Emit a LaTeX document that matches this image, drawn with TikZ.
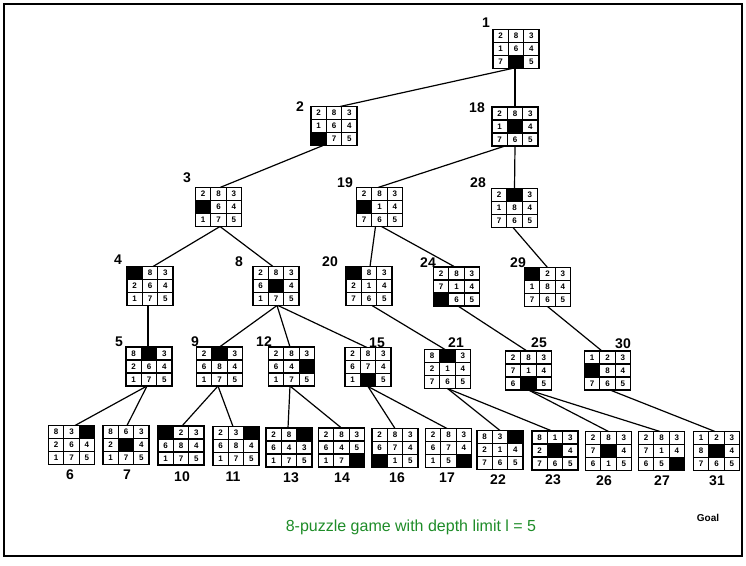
\documentclass[tikz,border=0pt]{standalone}
\usepackage{fontspec}
\setmainfont{Liberation Sans}
\definecolor{capgreen}{RGB}{30,140,40}
\tikzset{
  pbox/.style={draw, line width=1.5pt, minimum width=46pt, minimum height=39pt, inner sep=0pt, outer sep=0pt},
  digit/.style={font=\fontsize{8}{8}\selectfont\bfseries, inner sep=0pt},
  lab/.style={font=\fontsize{14}{14}\selectfont\bfseries, inner sep=0pt},
  edge/.style={line width=1.2pt},
  gridl/.style={line width=1.1pt},
}
\newcommand\puz[4]{%
  \begin{scope}[shift={(#2,#3)}]
    \foreach \v [count=\k from 0] in {#4} {%
      \pgfmathtruncatemacro\cc{mod(\k,3)}%
      \pgfmathtruncatemacro\rr{floor(\k/3)}%
      \ifnum\v=0
        \fill (-23+\cc*15.333, -19.5+\rr*13) rectangle ++(15.333,13);
      \else
        \node[digit] at (-23+\cc*15.333+7.667, -19.5+\rr*13+6.5) {\v};
      \fi
    }
    \draw[gridl] (-7.667,-19.5) -- (-7.667,19.5) (7.667,-19.5) -- (7.667,19.5)
                 (-23,-6.5) -- (23,-6.5) (-23,6.5) -- (23,6.5);
  \end{scope}
  \node[pbox] (#1) at (#2,#3) {};
}
\begin{document}
\begin{tikzpicture}[x={(1pt,0)}, y={(0,-1pt)}]
\useasboundingbox (0,0) rectangle (746,565);
\draw[line width=1.5pt] (4,4) rectangle (742,556);

% level 0
\puz{n1}{516}{49}{2,8,3,1,6,4,7,0,5}
% level 1
\puz{n2}{334}{126}{2,8,3,1,6,4,0,7,5}
\puz{n18}{515}{126.5}{2,8,3,1,0,4,7,6,5}
% level 2
\puz{n3}{218.5}{207}{2,8,3,0,6,4,1,7,5}
\puz{n19}{379.5}{207}{2,8,3,0,1,4,7,6,5}
\puz{n28}{514.5}{208}{2,0,3,1,8,4,7,6,5}
% level 3
\puz{n4}{150}{286}{0,8,3,2,6,4,1,7,5}
\puz{n8}{276}{286}{2,8,3,6,0,4,1,7,5}
\puz{n20}{369}{286}{0,8,3,2,1,4,7,6,5}
\puz{n24}{456.5}{286.5}{2,8,3,7,1,4,0,6,5}
\puz{n29}{547.5}{287}{0,2,3,1,8,4,7,6,5}
% level 4
\puz{n5}{149}{366.5}{8,0,3,2,6,4,1,7,5}
\puz{n9}{219.5}{366.5}{2,0,3,6,8,4,1,7,5}
\puz{n12}{291.5}{366.5}{2,8,3,6,4,0,1,7,5}
\puz{n15}{368}{367}{2,8,3,6,7,4,1,0,5}
\puz{n21}{447.5}{369}{8,0,3,2,1,4,7,6,5}
\puz{n25}{528.5}{370.5}{2,8,3,7,1,4,6,0,5}
\puz{n30}{607.5}{370.5}{1,2,3,0,8,4,7,6,5}
% level 5
\puz{n6}{71.5}{445}{8,3,0,2,6,4,1,7,5}
\puz{n7}{126}{445}{8,6,3,2,0,4,1,7,5}
\puz{n10}{181}{445.5}{0,2,3,6,8,4,1,7,5}
\puz{n11}{236}{446}{2,3,0,6,8,4,1,7,5}
\puz{n13}{289}{447.5}{2,8,0,6,4,3,1,7,5}
\puz{n14}{341.5}{447.5}{2,8,3,6,4,5,1,7,0}
\puz{n16}{395}{448}{2,8,3,6,7,4,0,1,5}
\puz{n17}{448.5}{448}{2,8,3,6,7,4,1,5,0}
\puz{n22}{500}{450}{8,3,0,2,1,4,7,6,5}
\puz{n23}{555}{450.5}{8,1,3,2,0,4,7,6,5}
\puz{n26}{608.5}{451}{2,8,3,7,0,4,6,1,5}
\puz{n27}{661.5}{451}{2,8,3,7,1,4,6,5,0}
\puz{n31}{716.5}{451}{1,2,3,8,0,4,7,6,5}

% labels
\node[lab] (l1) at (486,23) {1};
\node[lab] (l2) at (300,107) {2};
\node[lab] (l18) at (477,108) {18};
\node[lab] (l3) at (187,178) {3};
\node[lab] (l19) at (345,183) {19};
\node[lab] (l28) at (478,183) {28};
\node[lab] (l4) at (118,260) {4};
\node[lab] (l8) at (239,262) {8};
\node[lab] (l20) at (330,262) {20};
\node[lab] (l24) at (428,263) {24};
\node[lab] (l29) at (518,263) {29};
\node[lab] (l5) at (119,342) {5};
\node[lab] (l9) at (195,342) {9};
\node[lab] (l12) at (264,342) {12};
\node[lab] (l15) at (377,343) {15};
\node[lab] (l21) at (456,343) {21};
\node[lab] (l25) at (539,343) {25};
\node[lab] (l30) at (623,344) {30};
\node[lab] (l6) at (70,475) {6};
\node[lab] (l7) at (127,475) {7};
\node[lab] (l10) at (182,477) {10};
\node[lab] (l11) at (233,477) {11};
\node[lab] (l13) at (291,478) {13};
\node[lab] (l14) at (342,478) {14};
\node[lab] (l16) at (397,478) {16};
\node[lab] (l17) at (447,478) {17};
\node[lab] (l22) at (498,480) {22};
\node[lab] (l23) at (553,480) {23};
\node[lab] (l26) at (604,481) {26};
\node[lab] (l27) at (662,481) {27};
\node[lab] (l31) at (717,481) {31};

% edges
\draw[edge] ([xshift=-4pt]n1.south) -- ([xshift=6pt]n2.north);
\draw[edge] ([xshift=-1pt]n1.south) -- (n18.north);
\draw[edge] ([xshift=-11pt]n2.south) -- ([xshift=1.5pt]n3.north);
\draw[edge] ([xshift=-10pt]n18.south) -- ([xshift=-1.5pt]n19.north);
\draw[edge] (n18.south) -- (n28.north);
\draw[edge] ([xshift=1.5pt]n3.south) -- ([xshift=3pt]n4.north);
\draw[edge] ([xshift=1.5pt]n3.south) -- ([xshift=-3pt]n8.north);
\draw[edge] ([xshift=-4pt]n19.south) -- ([xshift=1pt]n20.north);
\draw[edge] ([xshift=2pt]n19.south) -- ([xshift=-1.5pt]n24.north);
\draw[edge] ([xshift=-1.5pt]n28.south) -- (n29.north);
\draw[edge] ([xshift=-2pt]n4.south) -- ([xshift=-1pt]n5.north);
\draw[edge] ([xshift=1pt]n8.south) -- (n9.north);
\draw[edge] ([xshift=1pt]n8.south) -- ([xshift=-1.5pt]n12.north);
\draw[edge] ([xshift=2pt]n8.south) -- ([xshift=-1pt]n15.north);
\draw[edge] ([xshift=3pt]n20.south) -- ([xshift=-2.5pt]n21.north);
\draw[edge] ([xshift=1.5pt]n24.south) -- ([xshift=-1.5pt]n25.north);
\draw[edge] (n29.south) -- ([xshift=-5.5pt]n30.north);
\draw[edge] ([xshift=-2pt]n5.south) -- ([xshift=3.5pt]n6.north);
\draw[edge] ([xshift=-2pt]n5.south) -- ([xshift=1pt]n7.north);
\draw[edge] ([xshift=-1.5pt]n9.south) -- ([xshift=1pt]n10.north);
\draw[edge] ([xshift=-1.5pt]n9.south) -- ([xshift=-3pt]n11.north);
\draw[edge] ([xshift=-1.5pt]n12.south) -- ([xshift=-1pt]n13.north);
\draw[edge] ([xshift=-1.5pt]n12.south) -- (n14.north);
\draw[edge] (n15.south) -- (n16.north);
\draw[edge] (n15.south) -- ([xshift=-1.5pt]n17.north);
\draw[edge] (n21.south) -- (n22.north);
\draw[edge] (n21.south) -- ([xshift=-3pt]n23.north);
\draw[edge] (n25.south) -- (n26.north);
\draw[edge] (n25.south) -- ([xshift=-1.5pt]n27.north);
\draw[edge] ([xshift=2.5pt]n30.south) -- ([xshift=-1.5pt]n31.north);

% texts
\node[font=\fontsize{10}{10}\selectfont\bfseries, inner sep=0pt] (goal) at (708,518) {Goal};
\node[font=\fontsize{16}{16}\selectfont, text=capgreen, inner sep=0pt] (cap) at (411,527) {8-puzzle game with depth limit l = 5};
\end{tikzpicture}
\end{document}
